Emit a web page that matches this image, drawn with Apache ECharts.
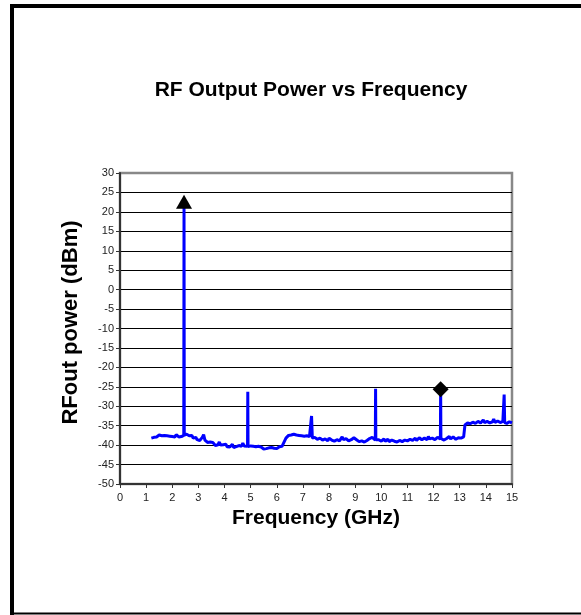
<!DOCTYPE html>
<html>
<head>
<meta charset="utf-8">
<script src="https://cdn.jsdelivr.net/npm/echarts@6/dist/echarts.min.js"></script>
<style>
html,body{margin:0;padding:0;background:#fff;}
#chart{width:581px;height:615px;}
</style>
</head>
<body>
<div id="chart"></div>
<script>
var titleText = 'RF Output Power vs Frequency';
var xAxisName = 'Frequency (GHz)';
var yAxisName = 'RFout power (dBm)';
var xTicks = {min: 0, max: 15, interval: 1};
var yTicks = {min: -50, max: 30, interval: 5};

// [frequency GHz, power dBm]
var trace = [
[1.20,-38.2],[1.25,-38.6],[1.30,-38.0],[1.35,-38.4],[1.40,-37.9],[1.45,-37.6],[1.50,-37.4],[1.55,-37.9],
[1.60,-37.6],[1.65,-38.0],[1.70,-37.5],[1.75,-37.8],[1.80,-37.6],[1.85,-38.0],[1.90,-37.7],[1.95,-37.4],
[2.00,-37.8],[2.05,-37.5],[2.10,-37.9],[2.15,-37.3],[2.20,-37.7],[2.25,-37.9],[2.30,-37.4],[2.35,-37.8],
[2.40,-37.6],[2.44,-37.5],[2.45,21.0],[2.46,-37.4],[2.50,-37.8],[2.55,-37.2],[2.60,-37.0],[2.65,-37.6],
[2.70,-37.9],[2.75,-37.5],[2.80,-38.2],[2.85,-38.4],[2.90,-38.0],[2.95,-38.6],[3.00,-38.3],[3.05,-38.8],
[3.10,-38.4],[3.15,-38.0],[3.20,-37.3],[3.25,-38.7],[3.30,-38.9],[3.35,-39.3],[3.40,-39.5],[3.45,-39.2],
[3.50,-39.6],[3.55,-39.3],[3.60,-39.8],[3.65,-40.1],[3.70,-39.6],[3.75,-39.9],[3.80,-39.2],[3.85,-40.0],
[3.90,-39.5],[3.95,-39.9],[4.00,-40.3],[4.05,-39.8],[4.10,-40.4],[4.15,-40.0],[4.20,-40.5],[4.25,-40.2],
[4.30,-39.8],[4.35,-40.6],[4.40,-40.9],[4.45,-40.4],[4.50,-40.7],[4.55,-40.1],[4.60,-39.6],[4.65,-40.3],
[4.70,-39.5],[4.75,-40.2],[4.80,-40.5],[4.88,-40.3],[4.89,-26.3],[4.90,-40.4],[4.95,-40.6],[5.00,-40.2],
[5.05,-40.5],[5.10,-40.3],[5.15,-40.7],[5.20,-40.4],[5.25,-40.6],[5.30,-40.3],[5.35,-40.8],[5.40,-40.5],
[5.45,-40.9],[5.50,-41.0],[5.55,-40.6],[5.60,-40.9],[5.65,-41.1],[5.70,-40.7],[5.75,-40.9],[5.80,-40.6],
[5.85,-41.0],[5.90,-40.8],[5.95,-40.5],[6.00,-40.9],[6.05,-40.6],[6.10,-40.4],[6.15,-40.7],[6.20,-40.3],
[6.25,-39.8],[6.30,-38.9],[6.35,-38.2],[6.40,-37.9],[6.45,-37.5],[6.50,-37.8],[6.55,-37.4],[6.60,-37.6],
[6.65,-37.2],[6.70,-37.7],[6.75,-37.4],[6.80,-37.9],[6.85,-37.5],[6.90,-37.8],[6.95,-37.6],[7.00,-38.0],
[7.05,-37.7],[7.10,-37.9],[7.15,-37.6],[7.20,-38.1],[7.25,-37.8],[7.30,-38.0],[7.33,-32.5],[7.36,-38.2],
[7.40,-38.4],[7.45,-38.0],[7.50,-38.1],[7.55,-38.5],[7.60,-38.6],[7.65,-38.2],[7.70,-38.3],[7.75,-38.7],
[7.80,-38.8],[7.85,-38.4],[7.90,-38.5],[7.95,-38.9],[8.00,-38.2],[8.05,-38.6],[8.10,-38.7],[8.15,-39.0],
[8.20,-39.0],[8.25,-38.5],[8.30,-38.6],[8.35,-38.9],[8.40,-38.9],[8.45,-38.4],[8.50,-37.9],[8.55,-38.6],
[8.60,-38.8],[8.65,-38.3],[8.70,-38.4],[8.75,-38.9],[8.80,-39.0],[8.85,-38.6],[8.90,-38.5],[8.95,-38.1],
[9.00,-37.9],[9.05,-38.6],[9.10,-38.9],[9.15,-39.1],[9.20,-39.2],[9.25,-38.9],[9.30,-38.8],[9.35,-39.2],
[9.40,-39.1],[9.45,-38.8],[9.50,-38.6],[9.55,-38.3],[9.60,-38.2],[9.65,-38.0],[9.70,-38.5],[9.77,-38.7],
[9.78,-25.5],[9.79,-38.6],[9.85,-38.9],[9.90,-38.6],[9.95,-38.4],[10.00,-39.0],[10.05,-38.7],[10.10,-38.4],
[10.15,-39.0],[10.20,-38.8],[10.25,-38.5],[10.30,-39.1],[10.35,-38.9],[10.40,-38.7],[10.45,-39.2],[10.50,-39.0],
[10.55,-38.8],[10.60,-39.2],[10.65,-38.9],[10.70,-38.8],[10.75,-39.1],[10.80,-39.1],[10.85,-38.8],[10.90,-38.7],
[10.95,-39.0],[11.00,-38.9],[11.05,-38.6],[11.10,-38.5],[11.15,-38.9],[11.20,-38.8],[11.25,-38.4],[11.30,-38.2],
[11.35,-38.8],[11.40,-38.9],[11.45,-38.1],[11.50,-38.0],[11.55,-38.6],[11.60,-38.7],[11.65,-38.2],[11.70,-38.3],
[11.75,-38.6],[11.80,-37.8],[11.85,-38.4],[11.90,-38.6],[11.95,-38.2],[12.00,-38.1],[12.05,-38.6],[12.10,-38.5],
[12.15,-38.0],[12.20,-38.2],[12.26,-38.4],[12.27,-25.6],[12.28,-38.3],[12.35,-38.0],[12.40,-38.7],[12.45,-38.4],
[12.50,-38.3],[12.55,-38.8],[12.60,-37.8],[12.65,-38.4],[12.70,-38.5],[12.75,-37.9],[12.80,-38.0],[12.85,-38.5],
[12.90,-38.6],[12.95,-38.1],[13.00,-37.7],[13.05,-38.2],[13.10,-38.4],[13.15,-37.9],[13.20,-34.8],[13.25,-34.4],
[13.30,-34.3],[13.35,-34.6],[13.40,-34.5],[13.45,-34.2],[13.50,-34.1],[13.55,-34.5],[13.60,-34.4],[13.65,-34.0],
[13.70,-33.9],[13.75,-34.4],[13.80,-34.3],[13.85,-34.0],[13.90,-33.5],[13.95,-34.2],[14.00,-34.2],[14.05,-33.9],
[14.10,-33.8],[14.15,-34.3],[14.20,-34.4],[14.25,-34.0],[14.30,-33.3],[14.35,-34.2],[14.40,-34.1],[14.45,-33.8],
[14.50,-33.6],[14.55,-34.2],[14.60,-34.3],[14.65,-33.9],[14.68,-34.0],[14.70,-27.0],[14.72,-34.2],[14.75,-34.5],
[14.80,-34.4],[14.85,-34.1],[14.90,-34.0],[14.95,-34.4],[15.00,-34.3]
];
var fundamentalMarker = [[2.45, 22.6]];
var harmonicMarker = [[12.27, -25.6]];

var chart = echarts.init(document.getElementById('chart'), null, {renderer: 'canvas'});
var font = 'Arial, "Liberation Sans", Helvetica, sans-serif';
chart.setOption({
  animation: false,
  backgroundColor: '#ffffff',
  title: {
    text: titleText, left: 306, top: 75, textAlign: 'center',
    textStyle: {fontFamily: font, fontSize: 21, fontWeight: 'bold', color: '#000'}
  },
  graphic: [
    {type: 'rect', shape: {x: 10, y: 4, width: 4, height: 611}, style: {fill: '#000'}},
    {type: 'rect', shape: {x: 10, y: 4, width: 571, height: 4}, style: {fill: '#000'}},
    {type: 'rect', shape: {x: 10, y: 612.5, width: 571, height: 2}, style: {fill: '#000'}}
  ],
  grid: {left: 120, top: 173, width: 392, height: 311, show: true, borderColor: '#888', borderWidth: 2.5, backgroundColor: 'transparent'},
  xAxis: {
    type: 'value', min: xTicks.min, max: xTicks.max, interval: xTicks.interval,
    name: xAxisName, nameLocation: 'middle', nameGap: 24,
    nameTextStyle: {fontFamily: font, fontSize: 21, fontWeight: 'bold', color: '#000'},
    axisLine: {show: true, onZero: false, lineStyle: {color: '#333', width: 2}},
    axisTick: {show: true, inside: false, length: 4, lineStyle: {color: '#333', width: 1}},
    axisLabel: {fontFamily: font, fontSize: 11, color: '#222', margin: 8},
    splitLine: {show: false}
  },
  yAxis: {
    type: 'value', min: yTicks.min, max: yTicks.max, interval: yTicks.interval,
    name: yAxisName, nameLocation: 'middle', nameGap: 38,
    nameTextStyle: {fontFamily: font, fontSize: 22, fontWeight: 'bold', color: '#000', padding: [0, 0, 0, 12]},
    axisLine: {show: true, onZero: false, lineStyle: {color: '#333', width: 2}},
    axisTick: {show: true, inside: false, length: 4, lineStyle: {color: '#333', width: 1}},
    axisLabel: {fontFamily: font, fontSize: 11, color: '#222', margin: 6},
    splitLine: {show: true, showMinLine: false, showMaxLine: false, lineStyle: {color: '#000', width: 1}}
  },
  series: [
    {type: 'line', data: trace, showSymbol: false, symbol: 'none', lineStyle: {color: '#0000ff', width: 3}, z: 3},
    {type: 'scatter', data: fundamentalMarker, symbol: 'triangle', symbolSize: [16, 14], itemStyle: {color: '#000', opacity: 1}, z: 4},
    {type: 'scatter', data: harmonicMarker, symbol: 'diamond', symbolSize: [16, 16], itemStyle: {color: '#000', opacity: 1}, z: 4}
  ]
});
</script>
</body>
</html>
